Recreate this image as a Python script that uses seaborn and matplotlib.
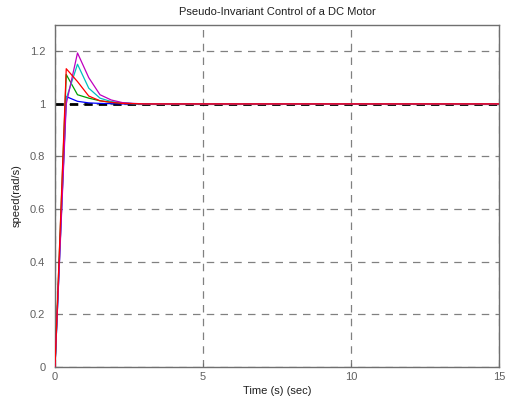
import matplotlib
matplotlib.use("Agg")
import matplotlib.pyplot as plt
import seaborn as sns
import pandas as pd

# Data
time = [0, 0.38, 0.76, 1.14, 1.52, 1.9, 2.28, 2.66, 3.04, 15]
reference = [1, 1, 1, 1, 1, 1, 1, 1, 1, 1]
blue = [0, 1.028, 1.010, 1.004, 1.002, 1.001, 1.0, 1.0, 1.0, 1.0]
green = [0, 1.112, 1.035, 1.022, 1.012, 1.006, 1.003, 1.001, 1.0, 1.0]
cyan = [0, 1.02, 1.151, 1.060, 1.022, 1.009, 1.004, 1.001, 1.0, 1.0]
magenta = [0, 1.0, 1.194, 1.100, 1.035, 1.015, 1.005, 1.002, 1.0, 1.0]
red = [0, 1.134, 1.085, 1.030, 1.012, 1.006, 1.002, 1.001, 1.0, 1.0]

x_ticks = [0, 5, 10, 15]
y_ticks = [0, 0.2, 0.4, 0.6, 0.8, 1.0, 1.2]
y_tick_labels = ["0", "0.2", "0.4", "0.6", "0.8", "1", "1.2"]

sns.set_style("white")
plt.rcParams['font.family'] = ['Liberation Sans', 'DejaVu Sans']

fig = plt.figure(figsize=(5.06, 4.05), dpi=100)
ax = fig.add_axes([0.1087, 0.0946, 0.8775, 0.8434])

df = pd.DataFrame({"t": time, "ref": reference, "b": blue, "g": green,
                   "c": cyan, "m": magenta, "r": red})

sns.lineplot(data=df, x="t", y="ref", ax=ax, color="black", linewidth=2.0,
             linestyle=(0, (3, 2.2)), zorder=2)
for col, c in [("b", "#0000ff"), ("g", "#00a000"), ("c", "#00bfbf"),
               ("m", "#bf00bf"), ("r", "#ff0000")]:
    sns.lineplot(data=df, x="t", y=col, ax=ax, color=c, linewidth=0.9, zorder=3)

ax.set_xlim(0, 15)
ax.set_ylim(0, 1.3)
ax.set_xticks(x_ticks)
ax.set_yticks(y_ticks)
ax.set_yticklabels(y_tick_labels)
ax.grid(True, linestyle=(0, (6, 5)), color="#808080", linewidth=0.9)
ax.set_axisbelow(True)
for s in ax.spines.values():
    s.set_color("#707070")
    s.set_linewidth(1.0)
ax.tick_params(direction="in", length=3, colors="#707070", labelcolor="#606060",
               labelsize=8, left=True, bottom=True)
ax.tick_params(axis="y", pad=7)

ax.set_title("Pseudo-Invariant Control of a DC Motor", fontsize=8, color="#202020", pad=7)
ax.set_xlabel("Time (s) (sec)", fontsize=8, color="#202020", labelpad=3)
ax.set_ylabel("speed(rad/s)", fontsize=8, color="#202020", labelpad=6)

fig.savefig("out.png", dpi=100)
